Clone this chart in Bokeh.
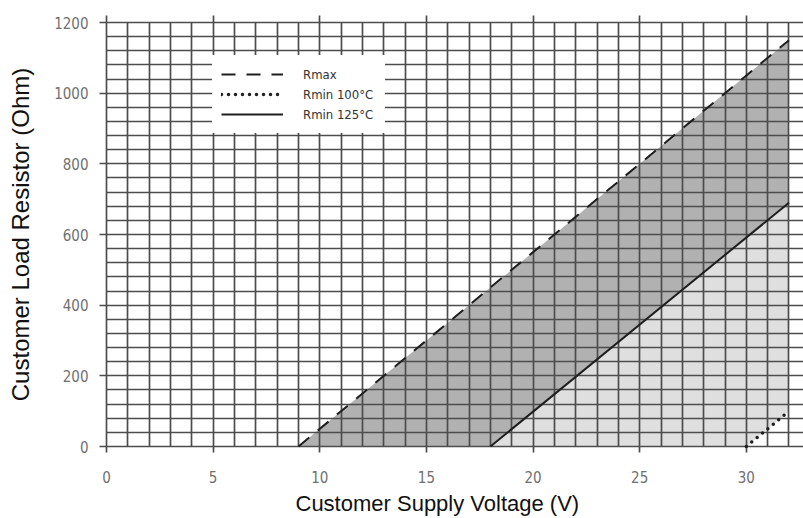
from bokeh.plotting import figure
from bokeh.models import (Range1d, SingleIntervalTicker, FixedTicker, LinearAxis,
                          Legend, LegendItem, Title)
from bokeh.embed import file_html
from bokeh.resources import INLINE

# ---- data ----
rmax_v = [9, 32]
rmax_r = [0, 1150]
r100_v = [30, 32]
r100_r = [0, 100]
r125_v = [18, 32]
r125_r = [0, 690]

x_ticks = [0, 5, 10, 15, 20, 25, 30]
y_ticks = [0, 200, 400, 600, 800, 1000, 1200]

series_labels = ["Rmax", "Rmin 100°C", "Rmin 125°C"]
x_title = "Customer Supply Voltage (V)"
y_title = "Customer Load Resistor (Ohm)"

GRID = "#4d4d4d"
TICKFONT = "DejaVu Sans Condensed"

p = figure(width=803, height=518, output_backend="svg", toolbar_location=None,
           x_range=Range1d(0, 32.68), y_range=Range1d(0, 1200),
           min_border_left=106, min_border_right=0, min_border_top=22,
           min_border_bottom=72)
p.outline_line_color = None
p.background_fill_color = "white"

# shaded regions built from the line data
dark_x = rmax_v + r125_v[::-1]
dark_y = rmax_r + r125_r[::-1]
light_x = r125_v + r100_v[::-1]
light_y = r125_r + r100_r[::-1]
p.patch(dark_x, dark_y, fill_color="#b1b1b1", line_color=None)
p.patch(light_x, light_y, fill_color="#dfdfdf", line_color=None)

# grids drawn on top of the shading
p.xgrid.ticker = SingleIntervalTicker(interval=1)
p.ygrid.ticker = SingleIntervalTicker(interval=40)
for g in (p.xgrid, p.ygrid):
    g.grid_line_color = GRID
    g.grid_line_width = 1.7
    g.grid_line_alpha = 1
    g.level = "guide"

# lines
l_max = p.line(rmax_v, rmax_r, line_color="#1e1e1e", line_width=2, line_dash="14 11",
               level="annotation")
l_100 = p.line(r100_v, r100_r, line_color="#1e1e1e", line_width=3.5, line_dash="0 7",
               line_cap="round", level="annotation")
l_125 = p.line(r125_v, r125_r, line_color="#1e1e1e", line_width=2, level="annotation")

# axes
for ax in (p.xaxis[0], p.yaxis[0]):
    ax.axis_line_color = GRID
    ax.axis_line_width = 1.7
    ax.major_tick_line_color = GRID
    ax.major_tick_line_width = 1.7
    ax.major_tick_in = 0
    ax.minor_tick_line_color = None
    ax.major_label_text_font = TICKFONT
    ax.major_label_text_font_size = "15px"
    ax.major_label_text_color = "#707070"
    ax.axis_label_text_font = "Liberation Sans"
    ax.axis_label_text_font_style = "normal"
    ax.axis_label_text_color = "#111111"

p.xaxis[0].ticker = FixedTicker(ticks=x_ticks)
p.xaxis[0].major_tick_out = 6
p.xaxis[0].major_label_standoff = 18

p.yaxis[0].ticker = FixedTicker(ticks=y_ticks)
p.yaxis[0].major_tick_out = 7
p.yaxis[0].major_label_standoff = 11
p.yaxis[0].axis_label = y_title
p.yaxis[0].axis_label_text_font_size = "24px"
p.yaxis[0].axis_label_standoff = 17

# x-axis title, placed slightly left of centre as in the reference
p.add_layout(Title(text=x_title, align="left", offset=189, standoff=6,
                   text_font="Liberation Sans", text_font_size="22px",
                   text_font_style="normal", text_color="#111111"), "below")

top = LinearAxis(ticker=FixedTicker(ticks=x_ticks), major_label_text_font_size="1px",
                 major_label_text_alpha=0, major_label_standoff=0,
                 axis_line_color=GRID, axis_line_width=1.7,
                 major_tick_line_color=GRID, major_tick_line_width=1.7,
                 major_tick_in=0, major_tick_out=7, minor_tick_line_color=None)
p.add_layout(top, "above")

legend = Legend(items=[LegendItem(label=series_labels[0], renderers=[l_max]),
                       LegendItem(label=series_labels[1], renderers=[l_100]),
                       LegendItem(label=series_labels[2], renderers=[l_125])],
                location=(106, 313), orientation="vertical",
                glyph_width=62, glyph_height=20, label_height=20, label_width=73,
                label_standoff=20, padding=8, spacing=0, margin=0,
                border_line_color="white", border_line_width=1,
                background_fill_color="white", background_fill_alpha=1,
                label_text_font=TICKFONT, label_text_font_size="13px",
                label_text_color="#333333")
p.add_layout(legend)

open("out.html", "w").write(file_html(p, INLINE))
